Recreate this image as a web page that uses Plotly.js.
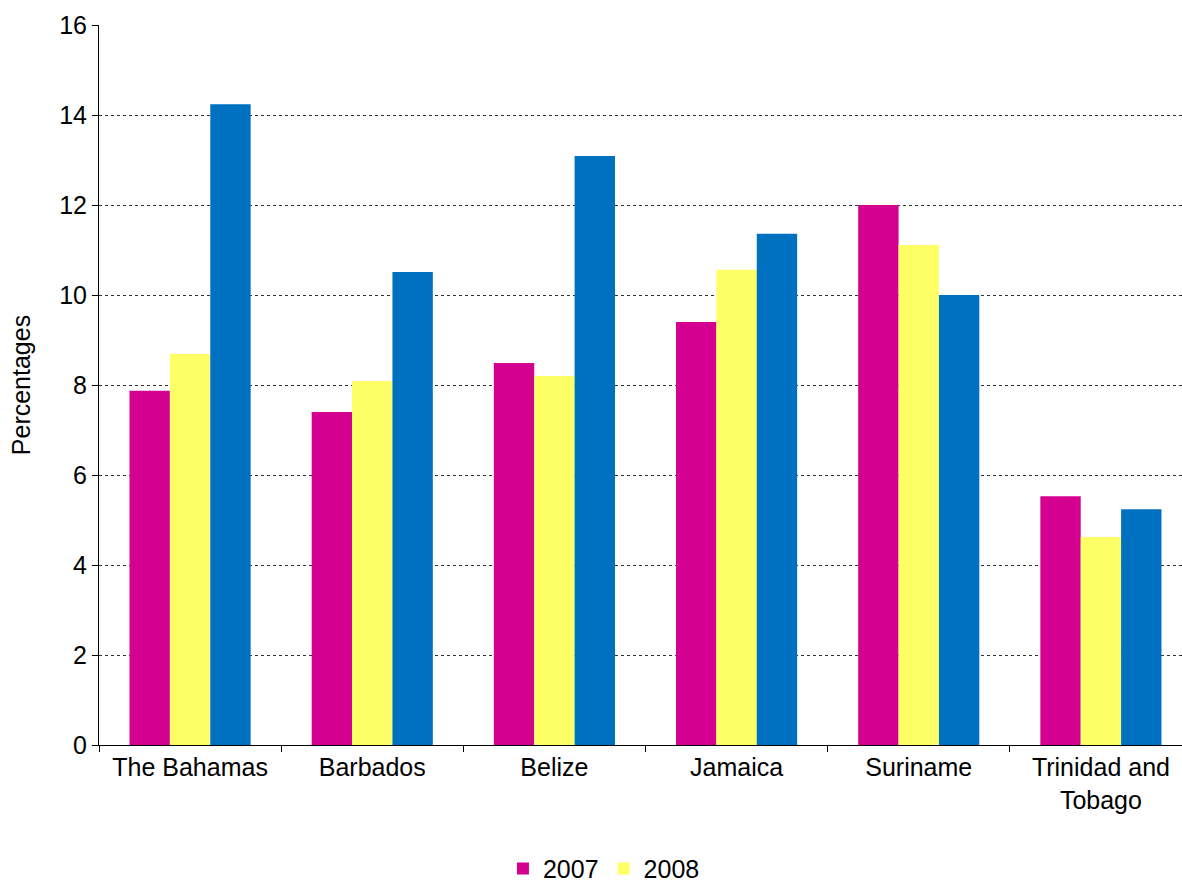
<!DOCTYPE html>
<html><head><meta charset="utf-8">
<script src="https://cdn.plot.ly/plotly-3.0.1.min.js"></script>
<style>html,body{margin:0;padding:0;overflow:hidden;background:#fff}#chart{width:1192px;height:886px}</style>
</head><body><div id="chart"></div>
<script>
const categories = ["The Bahamas","Barbados","Belize","Jamaica","Suriname","Trinidad and<br>Tobago"];
const values2007 = [7.87, 7.4, 8.49, 9.4, 12.0, 5.53];
const values2008 = [8.69, 8.09, 8.2, 10.56, 11.11, 4.62];
const values2009 = [14.24, 10.51, 13.09, 11.36, 10.0, 5.24];
const seriesNames = ["2007","2008","2009"];
const yTicks = [0,2,4,6,8,10,12,14,16];

const colors = ["#D4008F","#FFFF66","#0070C0"];
const data = [values2007, values2008, values2009].map((v,i)=>({
  type:"bar", x:categories, y:v, name:seriesNames[i],
  marker:{color:colors[i]}, showlegend: i<2, hoverinfo:"y"
}));
const font = {family:"Liberation Sans, Arial, sans-serif", size:25, color:"#000"};
Plotly.newPlot("chart", data, {
  width:1192, height:886,
  margin:{l:99, r:0, t:25, b:141, autoexpand:false},
  paper_bgcolor:"#fff", plot_bgcolor:"#fff",
  font:font,
  bargap:0.335, bargroupgap:0,
  xaxis:{type:"category", showline:true, linecolor:"#000", linewidth:1, automargin:false,
    ticks:"outside", ticklen:6, tickcolor:"#000", tickson:"boundaries",
    tickfont:font, showgrid:false},
  yaxis:{range:[0,16], tickvals:yTicks, ticktext:yTicks.map(String), automargin:false,
    showline:true, linecolor:"#000", linewidth:1, ticks:"outside", ticklen:6, tickcolor:"#000",
    showgrid:true, gridcolor:"#333", griddash:"dot", gridwidth:1, zeroline:false,
    tickfont:font, title:{text:"Percentages", font:font, standoff:21}},
  legend:{orientation:"h", x:0.462, xanchor:"center", y:-0.172, yanchor:"middle",
    font:font, itemwidth:30, tracegroupgap:0},
}, {displayModeBar:false, staticPlot:true});
</script></body></html>
